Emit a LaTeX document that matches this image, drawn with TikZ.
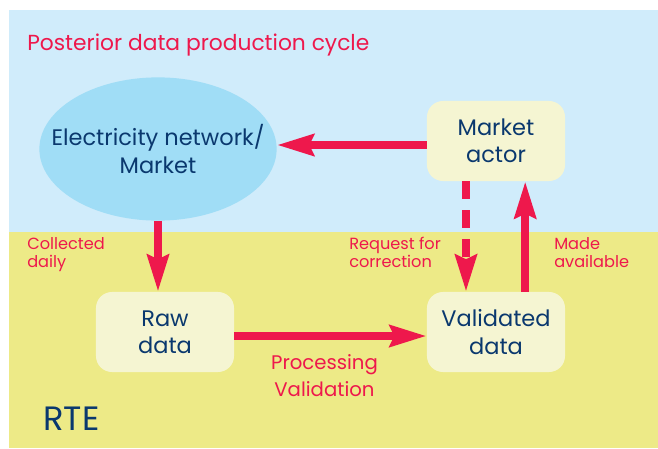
\documentclass[tikz,border=0pt]{standalone}
\usepackage{fontspec}
\setmainfont{Poppins}
\usetikzlibrary{positioning}
\usetikzlibrary{shapes.geometric}
\usetikzlibrary{arrows.meta}

\definecolor{skybg}{RGB}{208,236,251}
\definecolor{sandbg}{RGB}{237,234,135}
\definecolor{ellfill}{RGB}{160,221,246}
\definecolor{boxfill}{RGB}{245,245,210}
\definecolor{rteRed}{RGB}{238,24,76}
\definecolor{rteBlue}{RGB}{10,56,110}

\begin{document}
\begin{tikzpicture}[x=0.025cm, y=-0.025cm, >={Stealth[length=26pt, width=15pt, inset=3pt]},
  databox/.style={rectangle, rounded corners=0.4cm, fill=boxfill, minimum width=3.45cm, minimum height=2cm, align=center, text=rteBlue, font=\fontsize{16}{19.5}\selectfont},
  flow/.style={->, color=rteRed, line width=5.7pt},
  note/.style={text=rteRed, align=left, anchor=north west, inner sep=0pt, font=\fontsize{11.5}{13}\selectfont}]

  \useasboundingbox (0,0) rectangle (658,448);
  \fill[skybg] (9,10) rectangle (658,232);
  \fill[sandbg] (9,232) rectangle (658,448);

  \node[anchor=west, inner sep=0pt, text=rteRed, font=\fontsize{15.5}{18}\selectfont] (title) at (27,45) {Posterior data production cycle};
  \node[anchor=west, inner sep=0pt, text=rteBlue, font=\fontsize{24}{28}\selectfont] (rte) at (43,419) {RTE};

  \node[ellipse, fill=ellfill, minimum width=5.93cm, minimum height=3.58cm, inner sep=0pt,
        label={[align=center, text=rteBlue, font=\fontsize{16}{19.5}\selectfont]center:Electricity network/\\Market}] (grid) at (158,149) {};
  \node[databox] (actor) at (496,141) {Market\\actor};
  \node[databox] (raw) at (165,332) {Raw\\data};
  \node[databox] (valid) at (496,332) {Validated\\data};

  \node[note] (collected) at (27,237) {Collected\\daily};
  \node[note] (request) at (349,237) {Request for\\correction};
  \node[note] (made) at (554,237) {Made\\available};

  \path[flow]
    ([yshift=-0.1cm]actor.west) edge ([yshift=-0.1cm]actor.west -| grid.east)
    (grid.south) edge (grid.south |- raw.north)
    ([yshift=-0.1cm]raw.east) edge node [below=0.25cm, xshift=-0.15cm, align=center, font=\fontsize{14}{19}\selectfont] {Processing\\Validation} ([yshift=-0.1cm]valid.west)
    ([xshift=0.73cm]valid.north) edge ([xshift=0.73cm]actor.south)
  ;
  \draw[flow, dash pattern=on 0.45cm off 0.275cm] ([xshift=-0.75cm]actor.south) -- ([xshift=-0.75cm]valid.north);
\end{tikzpicture}
\end{document}
